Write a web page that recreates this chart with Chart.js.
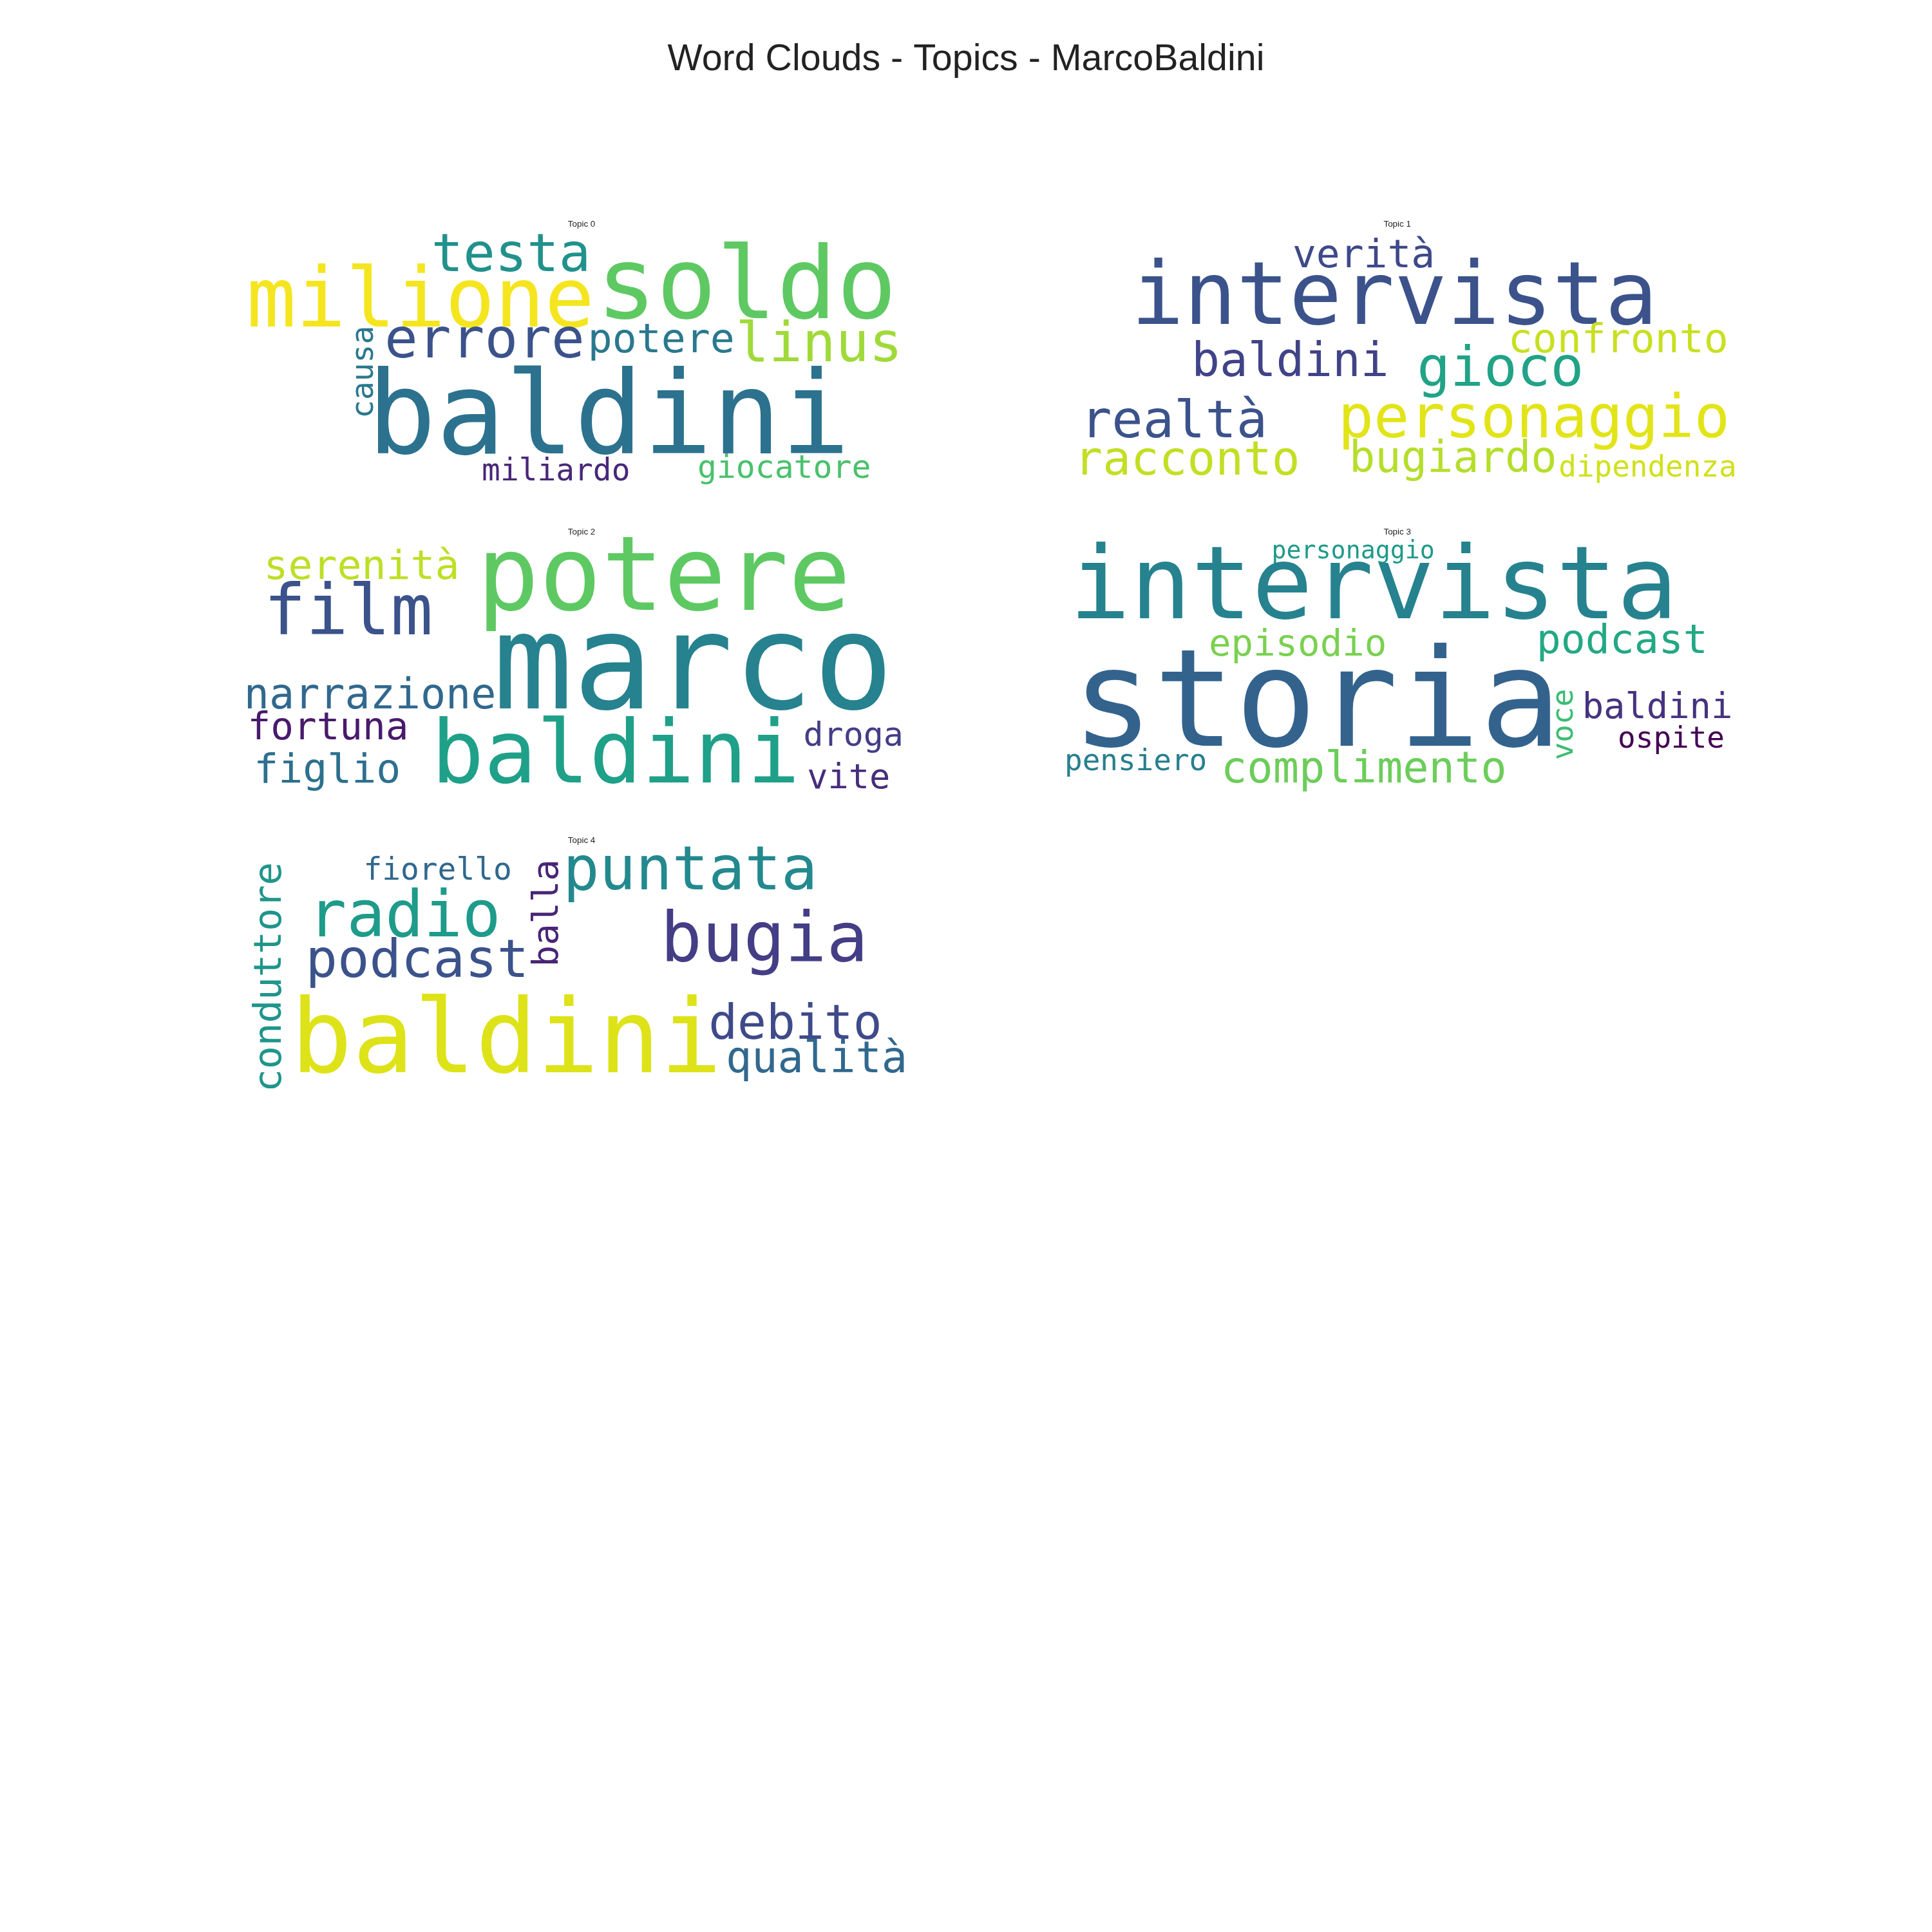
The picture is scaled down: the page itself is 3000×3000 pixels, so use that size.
<!DOCTYPE html>
<html>
<head>
<meta charset="utf-8">
<script src="https://cdn.jsdelivr.net/npm/chart.js@4"></script>
<style>
  html, body { margin: 0; padding: 0; background: #ffffff; }
  #wrap { width: 3000px; height: 3000px; }
</style>
</head>
<body>
<div id="wrap"><canvas id="cloud" width="3000" height="3000"></canvas></div>
<script>
// Coordinates in a 1568 x 1568 reference grid (x = left edge or centre for rotated words, y = baseline)
const topicLabels = ['Topic 0', 'Topic 1', 'Topic 2', 'Topic 3', 'Topic 4'];
const labelX = [472, 1134, 472, 1134, 472];
const labelY = [184, 184, 434, 434, 684];

const t0Words = ['milione', 'soldo', 'testa', 'errore', 'potere', 'linus', 'causa', 'baldini', 'miliardo', 'giocatore'];
const t0X = [200, 484, 350, 312, 477, 597, 296, 298, 391, 566];
const t0Y = [265, 258, 220, 290, 286, 293, 302, 368, 390, 388];
const t0Size = [67, 81, 43, 45, 33, 45, 25, 93, 25, 26];
const t0Color = ['#f5e51f', '#5ec962', '#21918c', '#3b528b', '#2a788e', '#a0da39', '#2a788e', '#2c728e', '#482878', '#4ac16d'];
const t0Rot = [0, 0, 0, 0, 0, 0, 1, 0, 0, 0];

const t1Words = ['verità', 'intervista', 'confronto', 'baldini', 'gioco', 'realtà', 'personaggio', 'racconto', 'bugiardo', 'dipendenza'];
const t1X = [1049, 918, 1224, 967, 1150, 877, 1086, 872, 1095, 1265];
const t1Y = [217, 263, 286, 305, 313, 355, 355, 385, 383, 387];
const t1Size = [32, 71, 33, 38, 45, 42, 48, 38, 35, 24];
const t1Color = ['#3e4989', '#3b528b', '#c8e020', '#404387', '#20a386', '#3b528b', '#e2e418', '#c2df23', '#b5de2b', '#d0e11c'];
const t1Rot = [0, 0, 0, 0, 0, 0, 0, 0, 0, 0];

const t2Words = ['serenità', 'potere', 'film', 'marco', 'narrazione', 'fortuna', 'baldini', 'droga', 'figlio', 'vite'];
const t2X = [214, 387, 214, 400, 198, 201, 350, 652, 206, 655];
const t2Y = [470, 495, 515, 575, 575, 600, 635, 605, 635, 640];
const t2Size = [33, 84, 57, 108, 34, 31, 71, 27, 33, 28];
const t2Color = ['#bddf26', '#5ec962', '#3b528b', '#26828e', '#31688e', '#481a6c', '#1fa088', '#433e85', '#2d708e', '#472d7b'];
const t2Rot = [0, 0, 0, 0, 0, 0, 0, 0, 0, 0];

const t3Words = ['personaggio', 'intervista', 'episodio', 'podcast', 'storia', 'voce', 'baldini', 'ospite', 'pensiero', 'complimento'];
const t3X = [1032, 868, 981, 1247, 870, 1270, 1284, 1313, 864, 991];
const t3Y = [453, 502, 532, 530, 605, 588, 583, 607, 625, 635];
const t3Size = [20, 82, 30, 33, 110, 24, 29, 24, 24, 35];
const t3Color = ['#1f9a8a', '#26828e', '#7ad151', '#22a884', '#33638d', '#3dbc74', '#46337e', '#440154', '#277f8e', '#6ccd5a'];
const t3Rot = [0, 0, 0, 0, 0, 1, 0, 0, 0, 0];

const t4Words = ['conduttore', 'fiorello', 'balla', 'puntata', 'radio', 'podcast', 'bugia', 'baldini', 'debito', 'qualità'];
const t4X = [220, 295, 445, 457, 250, 248, 536, 236, 575, 589];
const t4Y = [793, 714, 741, 722, 760, 793, 780, 870, 843, 870];
const t4Size = [31, 25, 29, 49, 52, 43, 56, 83, 39, 35];
const t4Color = ['#1f958b', '#31688e', '#482576', '#23898e', '#1e9b8a', '#3b528b', '#433e85', '#dde318', '#3e4a89', '#31688e'];
const t4Rot = [1, 0, 1, 0, 0, 0, 0, 0, 0, 0];

const mainTitle = 'Word Clouds - Topics - MarcoBaldini';
const GRID = 1568;

const topics = [
  [t0Words, t0X, t0Y, t0Size, t0Color, t0Rot],
  [t1Words, t1X, t1Y, t1Size, t1Color, t1Rot],
  [t2Words, t2X, t2Y, t2Size, t2Color, t2Rot],
  [t3Words, t3X, t3Y, t3Size, t3Color, t3Rot],
  [t4Words, t4X, t4Y, t4Size, t4Color, t4Rot]
];

const datasets = topics.map((t, i) => ({
  label: topicLabels[i],
  data: t[0].map((w, j) => ({ x: t[1][j], y: t[2][j] })),
  words: t[0], sizes: t[3], colors: t[4], rot: t[5],
  pointRadius: 0
}));
datasets.push({
  label: 'labels',
  data: topicLabels.map((l, i) => ({ x: labelX[i], y: labelY[i] })),
  pointRadius: 0
});

const wordPlugin = {
  id: 'words',
  afterDatasetsDraw(chart) {
    const ctx = chart.ctx;
    const xs = chart.scales.x;
    const k = xs.getPixelForValue(1) - xs.getPixelForValue(0);
    ctx.save();
    chart.data.datasets.forEach((ds, di) => {
      const meta = chart.getDatasetMeta(di);
      meta.data.forEach((pt, j) => {
        if (ds.label === 'labels') {
          ctx.font = (7 * k) + 'px "Liberation Sans", Arial, sans-serif';
          ctx.fillStyle = '#222222';
          ctx.textAlign = 'center';
          ctx.textBaseline = 'alphabetic';
          ctx.fillText(topicLabels[j], pt.x, pt.y);
          return;
        }
        ctx.font = (ds.sizes[j] * k) + 'px "DejaVu Sans Mono", monospace';
        ctx.fillStyle = ds.colors[j];
        if (ds.rot[j]) {
          ctx.save();
          ctx.translate(pt.x, pt.y);
          ctx.rotate(-Math.PI / 2);
          ctx.textAlign = 'center';
          ctx.textBaseline = 'middle';
          ctx.fillText(ds.words[j], 0, 0);
          ctx.restore();
        } else {
          ctx.textAlign = 'left';
          ctx.textBaseline = 'alphabetic';
          ctx.fillText(ds.words[j], pt.x, pt.y);
        }
      });
    });
    ctx.font = (30 * k) + 'px "Liberation Sans", Arial, sans-serif';
    ctx.fillStyle = '#222222';
    ctx.textAlign = 'center';
    ctx.textBaseline = 'alphabetic';
    ctx.fillText(mainTitle, xs.getPixelForValue(GRID / 2), chart.scales.y.getPixelForValue(57));
    ctx.restore();
  }
};

new Chart(document.getElementById('cloud'), {
  type: 'scatter',
  data: { datasets: datasets },
  options: {
    responsive: false,
    devicePixelRatio: 1,
    animation: false,
    layout: { padding: 0 },
    plugins: { legend: { display: false }, tooltip: { enabled: false } },
    scales: {
      x: { display: false, min: 0, max: GRID },
      y: { display: false, min: 0, max: GRID, reverse: true }
    }
  },
  plugins: [wordPlugin]
});
</script>
</body>
</html>
